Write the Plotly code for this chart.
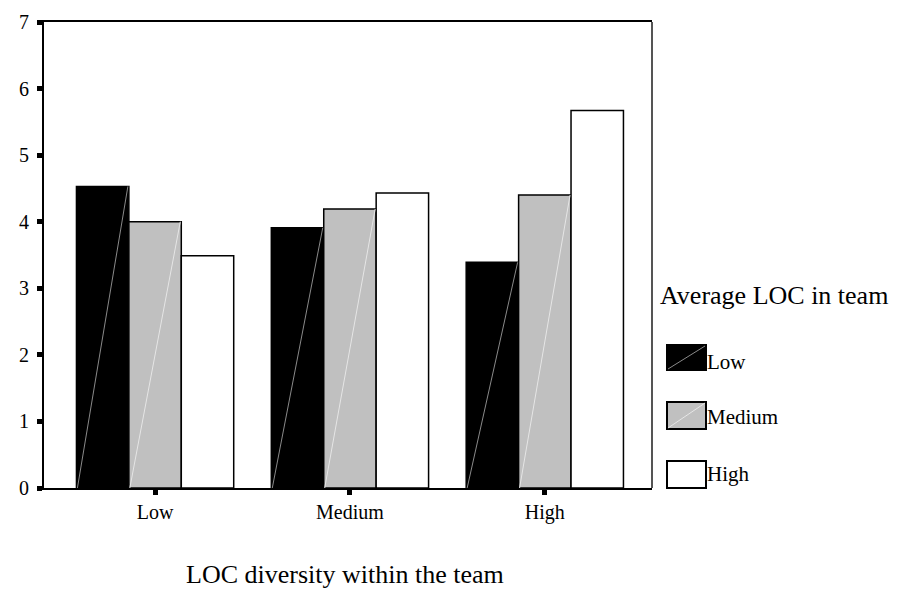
import plotly.graph_objects as go

categories = ["Low", "Medium", "High"]
series_names = ["Low", "Medium", "High"]
low_vals = [4.53, 3.91, 3.39]
medium_vals = [4.00, 4.19, 4.40]
high_vals = [3.49, 4.43, 5.67]
y_ticks = [0, 1, 2, 3, 4, 5, 6, 7]

series_vals = [low_vals, medium_vals, high_vals]
fills = ["#000000", "#c0c0c0", "#ffffff"]
diag_colors = ["#8a8a8a", "#e6e6e6", None]

FONT = "Liberation Serif"
x_pos = list(range(len(categories)))
bar_w = 0.269

fig = go.Figure()
for name, vals, col in zip(series_names, series_vals, fills):
    fig.add_trace(go.Bar(
        x=x_pos, y=vals, name=name, width=bar_w,
        marker=dict(color=col, line=dict(color="#000000", width=1.5)),
        showlegend=False,
    ))

shapes = []
# faint diagonal artifacts inside bars (computed from data)
for i, (vals, dc) in enumerate(zip(series_vals, diag_colors)):
    if dc is None:
        continue
    for j, v in enumerate(vals):
        c = x_pos[j] + (i - 1) * bar_w
        shapes.append(dict(type="line", xref="x", yref="y",
                           x0=c - bar_w / 2 + 0.005, y0=0, x1=c + bar_w / 2 - 0.005, y1=v,
                           line=dict(color=dc, width=1)))

# right border
shapes.append(dict(type="line", xref="paper", yref="paper", x0=1, x1=1, y0=0, y1=1,
                   line=dict(color="#555555", width=2)))

L, T, W, H = 36, 14, 608, 466


def px(xp):
    return (xp - L) / W


def py(yp):
    return (T + H - yp) / H


annotations = []
# legend (manual)
annotations.append(dict(text="Average LOC in team", xref="paper", yref="paper",
                        x=px(650), y=py(287), xanchor="left", yanchor="middle",
                        showarrow=False, font=dict(family=FONT, size=26, color="#000")))
sw = [(337, 362, 354), (394, 421, 409), (453, 480, 466)]
for (y0, y1, yl), name, col, dc in zip(sw, series_names, fills, diag_colors):
    shapes.append(dict(type="rect", xref="paper", yref="paper",
                       x0=px(659), x1=px(698), y0=py(y1), y1=py(y0),
                       fillcolor=col, line=dict(color="#000000", width=2)))
    if dc is not None:
        shapes.append(dict(type="line", xref="paper", yref="paper",
                           x0=px(660), x1=px(697), y0=py(y1 - 1), y1=py(y0 + 1),
                           line=dict(color=dc, width=1)))
    annotations.append(dict(text=name, xref="paper", yref="paper",
                            x=px(697), y=py(yl), xanchor="left", yanchor="middle",
                            showarrow=False, font=dict(family=FONT, size=21, color="#000")))

annotations.append(dict(text="LOC diversity within the team", xref="paper", yref="paper",
                        x=px(337), y=py(566), xanchor="center", yanchor="middle",
                        showarrow=False, font=dict(family=FONT, size=26, color="#000")))

fig.update_layout(
    template="none",
    width=900, height=589,
    margin=dict(l=L, r=900 - L - W, t=T, b=589 - T - H, autoexpand=False),
    paper_bgcolor="white", plot_bgcolor="white",
    barmode="group", bargap=0.193,
    font=dict(family=FONT, size=20, color="#000"),
    shapes=shapes, annotations=annotations,
    xaxis=dict(range=[-0.57, 2.55], tickvals=x_pos, ticktext=categories,
               showline=True, linecolor="#000", linewidth=2, mirror=True,
               ticks="outside", ticklen=5, tickwidth=5, tickcolor="#000",
               showgrid=False, zeroline=False, fixedrange=True, automargin=False,
               tickfont=dict(family=FONT, size=20)),
    yaxis=dict(range=[0, 7], tickvals=y_ticks,
               showline=True, linecolor="#000", linewidth=2,
               ticks="outside", ticklen=5, tickwidth=5, tickcolor="#000",
               showgrid=False, zeroline=False, fixedrange=True, automargin=False,
               ticklabelstandoff=4,
               tickfont=dict(family=FONT, size=20)),
)

fig.write_html("out.html")
